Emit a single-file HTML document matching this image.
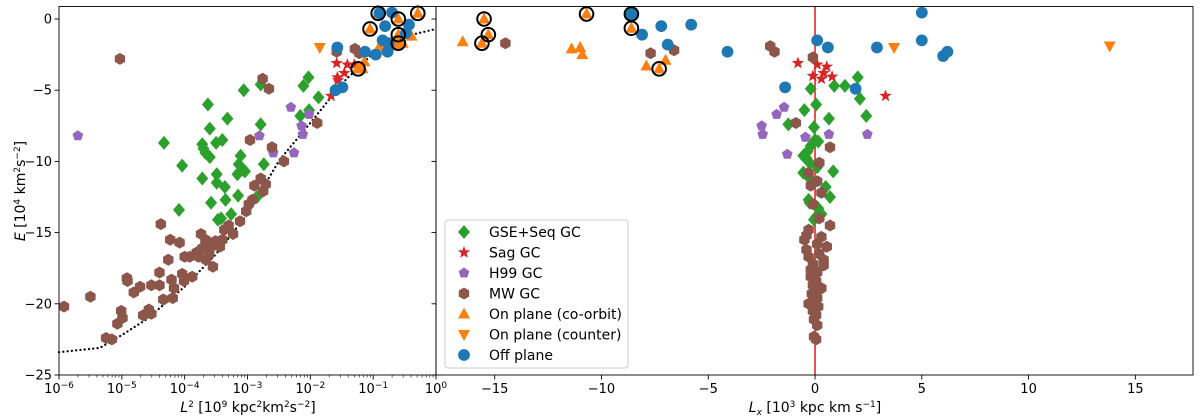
<!DOCTYPE html>
<html><head><meta charset="utf-8"><style>
html,body{margin:0;padding:0;background:#fff;}
svg{display:block;font-family:"DejaVu Sans","Liberation Sans",sans-serif;}
</style></head><body>
<svg id="chart" width="1200" height="419" viewBox="0 0 1200 419" xmlns="http://www.w3.org/2000/svg">
<g id="marks"></g>
<g id="axes"></g>
</svg>
<script>
// ---- data: left panel (log10 L^2, E) ----
const gseL = [[-4.33,-8.7],[-4.04,-10.3],[-4.09,-13.4],[-3.63,-6.0],[-3.72,-8.8],[-3.70,-9.1],[-3.67,-9.4],[-3.60,-9.7],[-3.60,-7.7],[-3.32,-7.0],[-3.72,-11.2],[-3.49,-10.9],[-3.49,-11.5],[-3.36,-11.8],[-3.50,-8.7],[-3.40,-8.5],[-3.58,-12.9],[-3.35,-12.7],[-3.47,-14.1],[-3.42,-14.0],[-3.26,-13.7],[-3.06,-5.0],[-3.11,-9.6],[-3.14,-10.2],[-3.07,-10.6],[-3.04,-10.7],[-3.16,-10.9],[-3.15,-12.4],[-2.79,-4.6],[-2.79,-7.4],[-2.74,-10.2],[-2.85,-12.5],[-2.11,-4.7],[-2.03,-4.1],[-2.16,-6.8],[-2.02,-6.4],[-1.87,-5.5]];
const sagL = [[-1.67,-5.4],[-1.58,-3.1],[-1.57,-4.1],[-1.56,-4.3],[-1.46,-3.8],[-1.41,-3.2],[-1.30,-3.2]];
const h99L = [[-5.70,-8.2],[-2.81,-8.2],[-2.59,-9.4],[-2.31,-6.2],[-2.26,-9.4],[-2.14,-7.5],[-2.12,-8.1],[-2.02,-6.7]];
const mwL = [[-5.03,-2.8],[-5.92,-20.2],[-5.50,-19.5],[-5.25,-22.4],[-5.16,-22.5],[-5.07,-21.4],[-5.01,-20.5],[-4.99,-21.0],[-4.92,-18.2],[-4.91,-18.4],[-4.81,-19.2],[-4.71,-18.8],[-4.66,-20.8],[-4.57,-20.4],[-4.53,-20.7],[-4.53,-18.7],[-4.38,-14.4],[-4.40,-17.8],[-4.40,-18.7],[-4.34,-19.7],[-4.26,-16.9],[-4.23,-15.5],[-4.21,-18.3],[-4.17,-18.9],[-4.19,-19.6],[-4.08,-15.7],[-4.04,-17.9],[-4.01,-18.4],[-4.00,-16.7],[-3.92,-16.7],[-3.88,-18.1],[-3.81,-16.4],[-3.78,-16.7],[-3.74,-15.1],[-3.72,-16.1],[-3.67,-15.5],[-3.66,-16.9],[-3.61,-16.5],[-3.58,-16.0],[-3.55,-17.4],[-3.51,-15.6],[-3.44,-16.0],[-3.40,-15.5],[-3.37,-14.8],[-3.30,-14.5],[-3.23,-15.1],[-3.12,-14.2],[-3.02,-13.5],[-2.98,-13.0],[-2.96,-8.5],[-2.92,-12.7],[-2.89,-11.7],[-2.79,-11.2],[-2.75,-12.1],[-2.71,-11.6],[-2.76,-4.2],[-2.66,-4.9],[-2.61,-9.0],[-2.42,-10.0],[-1.89,-7.3],[-1.58,-2.3],[-1.29,-2.1],[-1.22,-2.4]];
const coL = [[-1.14,-3.0],[-1.17,-3.5],[-1.25,-3.5],[-0.92,-2.1],[-0.86,-1.9],[-0.80,-2.2],[-0.72,-1.9],[-0.64,-1.8],[-0.53,-1.7],[-0.39,-1.2],[-0.92,0.4],[-1.05,-0.7],[-0.60,0.0],[-0.29,0.4],[-0.60,-1.1],[-0.60,-1.7],[-1.24,-3.5]];
const ctL = [[-1.85,-2.0]];
const offL = [[-1.57,-2.0],[-1.13,-2.3],[-1.60,-5.0],[-1.49,-4.8],[-0.96,-2.5],[-0.85,-1.5],[-0.81,-0.5],[-0.75,-1.7],[-0.70,0.45],[-0.48,-1.0],[-0.43,-0.4],[-0.90,0.4],[-0.77,-2.3]];
const ringL = [[-0.92,0.4],[-1.05,-0.7],[-0.60,0.0],[-0.29,0.4],[-0.60,-1.1],[-0.60,-1.7],[-1.24,-3.5]];
const curveL = [[-6,-23.4],[-5.35,-23.1],[-5,-22.2],[-4.61,-21.1],[-4,-18.8],[-3.5,-16.5],[-3,-13.7],[-2.49,-9.9],[-2,-7.3],[-1.49,-4.5],[-1,-2.4],[-0.48,-1.2],[0,-0.7]];
// ---- data: right panel (Lx, E) ----
const gseR = [[2.0,-4.1],[0.9,-4.7],[1.4,-4.7],[-0.2,-4.9],[2.1,-5.6],[0.05,-6.0],[-0.5,-6.4],[0.65,-7.0],[2.4,-6.8],[-1.25,-7.4],[-0.05,-7.6],[0,-8.5],[0.15,-8.6],[-0.2,-8.9],[-0.35,-9.3],[-0.55,-9.6],[-0.4,-9.8],[-0.25,-10.1],[0.05,-10.3],[0.1,-10.4],[0.85,-10.7],[-0.55,-10.8],[-0.3,-11.1],[-0.1,-11.5],[0.5,-11.8],[0.7,-12.5],[-0.3,-12.7],[-0.25,-12.9],[0.15,-13.3],[0.3,-13.7],[0.05,-13.9],[-0.05,-14.1]];
const sagR = [[-0.8,-3.1],[0.1,-3.2],[0.55,-3.35],[-0.1,-4.0],[0.4,-3.8],[0.3,-4.2],[0.8,-4.05],[3.3,-5.4]];
const h99R = [[-1.45,-6.2],[-1.8,-6.7],[-2.5,-7.5],[-2.45,-8.1],[-0.45,-8.3],[0.65,-8.1],[2.45,-8.1],[-1.3,-9.5]];
const mwR = [[-14.5,-1.7],[-7.7,-2.4],[-6.6,-2.2],[-2.1,-1.9],[-1.9,-2.3],[-0.1,-2.7],[-0.9,-7.3],[0.7,-9.0],[0.2,-10.1],[-0.3,-10.8],[0.1,-11.4],[-0.2,-11.7],[0.3,-12.2],[-0.1,-13.0],[0.2,-14.0],[0.7,-14.5],[-0.3,-14.8],[-0.4,-15.2],[0.3,-15.3],[-0.5,-15.5],[0.1,-15.8],[0.55,-16.0],[-0.4,-16.2],[0.2,-16.5],[-0.3,-16.7],[0.4,-16.9],[-0.1,-17.2],[0.4,-17.3],[0.1,-17.8],[-0.2,-18.1],[0.05,-18.4],[-0.1,-18.7],[0.2,-19.0],[-0.15,-19.3],[0.1,-19.6],[-0.05,-19.9],[0.15,-20.2],[-0.1,-20.5],[0.05,-20.8],[-0.05,-21.1],[0.1,-21.5],[-0.05,-22.3],[0.05,-22.5],[-0.2,-17.6],[0.3,-18.9],[-0.3,-20.0]];
const coR = [[-16.5,-1.6],[-11.4,-2.1],[-11.0,-2.0],[-10.9,-2.5],[-7.9,-3.3],[-7.0,-2.9],[-15.5,0.0],[-15.3,-1.1],[-15.6,-1.7],[-10.7,0.35],[-8.6,-0.65],[-7.3,-3.5]];
const ctR = [[3.7,-2.0],[13.8,-1.9]];
const offR = [[-8.6,0.35],[-8.1,-1.1],[-7.2,-0.5],[-5.8,-0.4],[-6.9,-1.8],[-4.1,-2.3],[-1.4,-4.8],[0.1,-1.5],[0.6,-2.0],[1.9,-4.9],[2.9,-2.0],[5.0,0.45],[5.0,-1.5],[6.0,-2.6],[6.2,-2.3]];
const ringR = [[-15.5,0.0],[-15.3,-1.1],[-15.6,-1.7],[-10.7,0.35],[-8.6,-0.65],[-7.3,-3.5],[-8.6,0.35]];
const xTicksL = [-6,-5,-4,-3,-2,-1,0];
const xTicksR = [-15,-10,-5,0,5,10,15];
const yTicks = [0,-5,-10,-15,-20,-25];

// ---- geometry ----
const L0=59,L1=436,R0=436,R1=1193,T=6.5,B=375;
const yS=v=>19+(-v)*(B-19)/25;
const xL=v=>L0+(v+6)*(L1-L0)/6;
const XR0=-17.75,XR1=17.7;
const xR=v=>R0+(v-XR0)*(R1-R0)/(XR1-XR0);
const NS="http://www.w3.org/2000/svg";
const marks=document.getElementById('marks'), axes=document.getElementById('axes');
function mk(tag,attrs,parent){const e=document.createElementNS(NS,tag);for(const k in attrs)e.setAttribute(k,attrs[k]);(parent||marks).appendChild(e);return e;}
const C={g:'#2ca02c',r:'#d62728',p:'#9467bd',b:'#8c564b',o:'#ff7f0e',bl:'#1f77b4'};
function poly(n,r,rot,cx,cy){let s=[];for(let i=0;i<n;i++){const a=rot+i*2*Math.PI/n;s.push((cx+r*Math.cos(a)).toFixed(1)+','+(cy+r*Math.sin(a)).toFixed(1));}return s.join(' ');}
function star(r,cx,cy){let s=[];for(let i=0;i<10;i++){const a=-Math.PI/2+i*Math.PI/5,rr=i%2?r*0.42:r;s.push((cx+rr*Math.cos(a)).toFixed(1)+','+(cy+rr*Math.sin(a)).toFixed(1));}return s.join(' ');}
function marker(type,cx,cy,g){
  if(type==='D')return mk('polygon',{points:`${cx},${cy-7} ${cx+6},${cy} ${cx},${cy+7} ${cx-6},${cy}`,fill:C.g},g);
  if(type==='*')return mk('polygon',{points:star(6.5,cx,cy),fill:C.r},g);
  if(type==='p')return mk('polygon',{points:poly(5,5.6,-Math.PI/2,cx,cy),fill:C.p},g);
  if(type==='h')return mk('polygon',{points:poly(6,6,-Math.PI/2,cx,cy),fill:C.b},g);
  if(type==='^')return mk('polygon',{points:`${cx},${cy-6.5} ${cx+6},${cy+4.5} ${cx-6},${cy+4.5}`,fill:C.o},g);
  if(type==='v')return mk('polygon',{points:`${cx},${cy+6.5} ${cx+6},${cy-4.5} ${cx-6},${cy-4.5}`,fill:C.o},g);
  if(type==='o')return mk('circle',{cx,cy,r:5.9,fill:C.bl},g);
}
function series(arr,type,fx,name){
  const g=mk('g',{});
  
  
  arr.forEach(d=>{const m=marker(type,fx(d[0]),yS(d[1]),g);
    
    });
}

// right red vertical line
const zl=mk('line',{x1:xR(0),x2:xR(0),y1:T,y2:B,stroke:'#e41a1c','stroke-width':1.5});


// curve
const cv=mk('polyline',{points:curveL.map(d=>xL(d[0]).toFixed(1)+','+yS(d[1]).toFixed(1)).join(' '),fill:'none',stroke:'#000','stroke-width':2.2,'stroke-dasharray':'0.1,4.2','stroke-linecap':'round'});



series(gseL,'D',xL,'gse-left');series(sagL,'*',xL,'sag-left');series(h99L,'p',xL,'h99-left');series(mwL,'h',xL,'mw-left');
series(coL,'^',xL,'coorbit-left');series(ctL,'v',xL,'counter-left');series(offL,'o',xL,'offplane-left');
series(gseR,'D',xR,'gse-right');series(sagR,'*',xR,'sag-right');series(h99R,'p',xR,'h99-right');series(mwR,'h',xR,'mw-right');
series(coR,'^',xR,'coorbit-right');series(ctR,'v',xR,'counter-right');series(offR,'o',xR,'offplane-right');
function rings(arr,fx,name){const g=mk('g',{});
  
  
  arr.forEach(d=>mk('circle',{cx:fx(d[0]),cy:yS(d[1]),r:6.8,fill:'none',stroke:'#000','stroke-width':2},g));}
rings(ringL,xL,'rings-left');rings(ringR,xR,'rings-right');

// axes
function line(x1,y1,x2,y2,w){return mk('line',{x1,y1,x2,y2,stroke:'#000','stroke-width':w||0.9},axes);}
function text(x,y,s,anchor,size,name){const t=mk('text',{x,y,'text-anchor':anchor||'middle','font-size':size||13,fill:'#000'},axes);t.innerHTML=s;
  
  return t;}
[[L0,L1],[R0,R1]].forEach(([a,b])=>{mk('rect',{x:a,y:T,width:b-a,height:B-T,fill:'none',stroke:'#000','stroke-width':0.9},axes);});
yTicks.forEach(v=>{line(L0-4.5,yS(v),L0,yS(v));line(R0-4.5,yS(v),R0,yS(v));
  text(L0-7,yS(v)+4.5,(v<0?'\u2212':'')+Math.abs(v),'end',13,'y-tick-label');});
xTicksL.forEach(v=>{line(xL(v),B,xL(v),B+4.5);
  text(xL(v),B+18,'10<tspan dy="-5" font-size="9">'+(v<0?'\u2212':'')+Math.abs(v)+'</tspan>','middle',13,'x-tick-label-left');
  if(v<0)for(let k=2;k<10;k++){const x=xL(v+Math.log10(k));line(x,B,x,B+2.5,0.6);}});
xTicksR.forEach(v=>{line(xR(v),B,xR(v),B+4.5);
  text(xR(v),B+18,(v<0?'\u2212':'')+Math.abs(v),'middle',13,'x-tick-label-right');});
text(248,412,'<tspan font-style="italic">L</tspan><tspan dy="-5" font-size="9">2</tspan><tspan dy="5"> [10</tspan><tspan dy="-5" font-size="9">9</tspan><tspan dy="5"> kpc</tspan><tspan dy="-5" font-size="9">2</tspan><tspan dy="5">km</tspan><tspan dy="-5" font-size="9">2</tspan><tspan dy="5">s</tspan><tspan dy="-5" font-size="9">\u22122</tspan><tspan dy="5">]</tspan>','middle',14,'x-axis-title-left');
text(815,412,'<tspan font-style="italic">L</tspan><tspan dy="3" font-size="9" font-style="italic">x</tspan><tspan dy="-3"> [10</tspan><tspan dy="-5" font-size="9">3</tspan><tspan dy="5"> kpc km s</tspan><tspan dy="-5" font-size="9">\u22121</tspan><tspan dy="5">]</tspan>','middle',14,'x-axis-title-right');
const yt=text(0,0,'<tspan font-style="italic">E</tspan> [10<tspan dy="-5" font-size="9">4</tspan><tspan dy="5"> km</tspan><tspan dy="-5" font-size="9">2</tspan><tspan dy="5">s</tspan><tspan dy="-5" font-size="9">\u22122</tspan><tspan dy="5">]</tspan>','middle',14,'y-axis-title');
yt.setAttribute('transform','translate(25,191) rotate(-90)');

// legend
const lg=mk('g',{},axes);


mk('rect',{x:445,y:220,width:183,height:148,rx:3,fill:'#fff','fill-opacity':0.85,stroke:'#ccc','stroke-width':1},lg);
const legNames=['GSE+Seq GC','Sag GC','H99 GC','MW GC','On plane (co-orbit)','On plane (counter)','Off plane'];
const legTypes=['D','*','p','h','^','v','o'];
legNames.forEach((n,i)=>{const y=232+i*20.5;
  const e=mk('g',{},lg);
  
  
  marker(legTypes[i],464,y,e);
  const t=mk('text',{x:489,y:y+5,'font-size':14,fill:'#000'},e);t.textContent=n;});
</script>
</body></html>
